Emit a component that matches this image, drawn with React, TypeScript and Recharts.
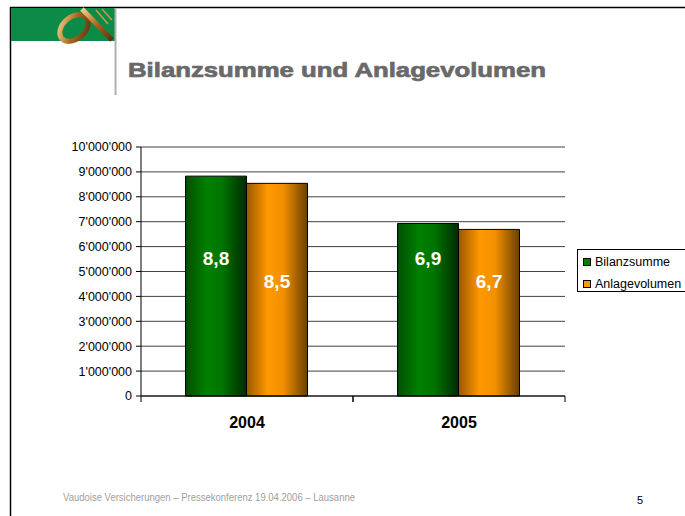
import React from 'react';
import { BarChart, Bar, XAxis, YAxis, CartesianGrid, LabelList } from 'recharts';

const years = ['2004', '2005'];
const bilanzsumme = [8830000, 6930000];
const anlagevolumen = [8540000, 6690000];
const yTicks = [0, 1000000, 2000000, 3000000, 4000000, 5000000, 6000000, 7000000, 8000000, 9000000, 10000000];
const seriesNames = ['Bilanzsumme', 'Anlagevolumen'];
const seriesColors = ['#008000', '#ff9900'];

const data = years.map((year, i) => ({
  year,
  bilanzsumme: bilanzsumme[i],
  anlagevolumen: anlagevolumen[i],
}));

const W = 685;
const H = 516;
const MARGIN = { top: 147, right: 120, bottom: 90, left: 61 };
const Y_AXIS_W = 80;
const X_AXIS_H = 30;
const PLOT_BOTTOM = H - MARGIN.bottom - X_AXIS_H;
const HALF_BAND = (W - MARGIN.left - Y_AXIS_W - MARGIN.right) / years.length / 2;
const FONT = 'Arial, "Liberation Sans", Helvetica, sans-serif';

const fmtTick = (v: number) => String(v).replace(/\B(?=(\d{3})+(?!\d))/g, "'");
const fmtMio = (v: number) => (v / 1000000).toFixed(1).replace('.', ',');

const XTick = ({ x, payload }: any) => (
  <g>
    <line x1={x - HALF_BAND} x2={x - HALF_BAND} y1={PLOT_BOTTOM} y2={PLOT_BOTTOM + 6} stroke="#000" />
    <line x1={x + HALF_BAND} x2={x + HALF_BAND} y1={PLOT_BOTTOM} y2={PLOT_BOTTOM + 6} stroke="#000" />
    <text x={x} y={PLOT_BOTTOM + 32} textAnchor="middle" fontFamily={FONT} fontSize={16} fontWeight="bold" fill="#000">
      {payload.value}
    </text>
  </g>
);

// value labels sit at a fixed height inside the bars, like in the slide
const makeLabel = (yPos: number) => ({ x, width, value }: any) => (
  <text x={x + width / 2} y={yPos} textAnchor="middle" dominantBaseline="central" fontFamily={FONT} fontSize={19} fontWeight="bold" fill="#fff">
    {fmtMio(value)}
  </text>
);

const LegendBox = () => (
  <div style={{ position: 'absolute', left: 577, top: 249, border: '1px solid #000', width: 110, height: 43, boxSizing: 'border-box', fontFamily: FONT, fontSize: 12.5, color: '#000', background: '#fff' }}>
    {seriesNames.map((name, i) => (
      <div key={name} style={{ position: 'absolute', left: 5, top: 4 + i * 22, height: 16, display: 'flex', alignItems: 'center', whiteSpace: 'nowrap' }}>
        <span style={{ display: 'inline-block', width: 6, height: 6, border: '1px solid #000', background: seriesColors[i], marginRight: 4 }} />
        {name}
      </div>
    ))}
  </div>
);

export default function App() {
  return (
    <div style={{ position: 'absolute', left: 0, top: 0, width: W, height: H, overflow: 'hidden', background: '#fff' }}>
      <svg width={W} height={H} style={{ position: 'absolute', left: 0, top: 0 }}>
        <defs>
          <linearGradient id="gold" x1="0" y1="0" x2="1" y2="1">
            <stop offset="0%" stopColor="#f3d08a" />
            <stop offset="50%" stopColor="#a8681e" />
            <stop offset="100%" stopColor="#5a3210" />
          </linearGradient>
        </defs>
        <line x1={10} y1={7.5} x2={W} y2={7.5} stroke="#000" strokeWidth={1.5} />
        <line x1={10.5} y1={7} x2={10.5} y2={H} stroke="#000" strokeWidth={1.5} />
        <rect x={11} y={8} width={104} height={33} fill="#0b8b47" />
        <ellipse cx={74} cy={28} rx={16} ry={11} fill="none" stroke="url(#gold)" strokeWidth={5} transform="rotate(-40 74 28)" />
        <path d="M82 9 L112 40" stroke="url(#gold)" strokeWidth={5} />
        <path d="M96 10 L108 24 M102 9 L112 20" stroke="#c99a4a" strokeWidth={1.5} />
        <line x1={115.5} y1={8} x2={115.5} y2={95} stroke="#b0b0b0" strokeWidth={2} />
        <text x={128} y={77} textLength={418} lengthAdjust="spacingAndGlyphs" fontFamily={FONT} fontSize={21} fontWeight="bold" fill="#696969" stroke="#696969" strokeWidth={0.7}>
          Bilanzsumme und Anlagevolumen
        </text>
        <text x={63} y={501} textLength={292} lengthAdjust="spacingAndGlyphs" fontFamily={FONT} fontSize={10} fill="#a0a0a0">
          Vaudoise Versicherungen – Pressekonferenz 19.04.2006 – Lausanne
        </text>
        <text x={640} y={504} textAnchor="middle" fontFamily={FONT} fontSize={11} fill="#000">
          5
        </text>
      </svg>
      <div style={{ position: 'absolute', left: 0, top: 0 }}>
        <BarChart width={W} height={H} data={data} margin={MARGIN} barCategoryGap="21%" barGap={0}>
          <defs>
            <linearGradient id="greenBar" x1="0" y1="0" x2="1" y2="0">
              <stop offset="0%" stopColor="#004f00" />
              <stop offset="35%" stopColor="#008000" />
              <stop offset="60%" stopColor="#007400" />
              <stop offset="100%" stopColor="#002a00" />
            </linearGradient>
            <linearGradient id="orangeBar" x1="0" y1="0" x2="1" y2="0">
              <stop offset="0%" stopColor="#9a5800" />
              <stop offset="35%" stopColor="#ff9900" />
              <stop offset="60%" stopColor="#f29000" />
              <stop offset="100%" stopColor="#6a3f00" />
            </linearGradient>
          </defs>
          <CartesianGrid vertical={false} stroke="#404040" />
          <XAxis dataKey="year" height={X_AXIS_H} stroke="#000" tickLine={false} tick={<XTick />} interval={0} />
          <YAxis
            width={Y_AXIS_W}
            domain={[0, 10000000]}
            ticks={yTicks}
            interval={0}
            tickFormatter={fmtTick}
            stroke="#000"
            tickSize={5}
            tickMargin={4}
            tick={{ fill: '#000', fontSize: 12.5, fontFamily: FONT }}
          />
          <Bar dataKey="bilanzsumme" name={seriesNames[0]} fill="url(#greenBar)" stroke="#000" strokeWidth={1} isAnimationActive={false}>
            <LabelList dataKey="bilanzsumme" content={makeLabel(258)} />
          </Bar>
          <Bar dataKey="anlagevolumen" name={seriesNames[1]} fill="url(#orangeBar)" stroke="#000" strokeWidth={1} isAnimationActive={false}>
            <LabelList dataKey="anlagevolumen" content={makeLabel(281)} />
          </Bar>
        </BarChart>
      </div>
      <LegendBox />
    </div>
  );
}
